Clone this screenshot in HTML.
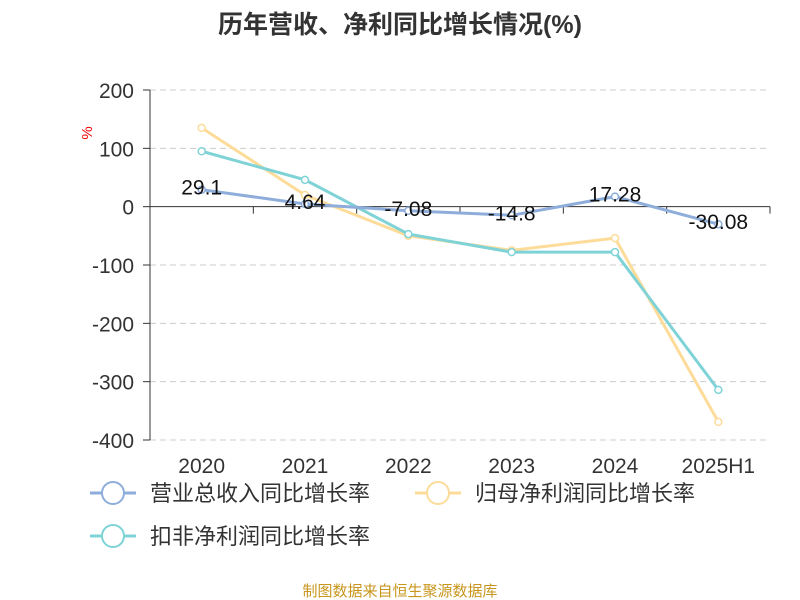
<!DOCTYPE html>
<html><head><meta charset="utf-8"><style>
body{margin:0;background:#fff;}
svg{display:block;font-family:"Liberation Sans","Noto Sans CJK SC",sans-serif;}
</style></head><body>
<svg id="c" width="800" height="600"></svg>
<script>
const categories=["2020","2021","2022","2023","2024","2025H1"];
const revenueGrowth=[29.1,4.64,-7.08,-14.8,17.28,-30.08];
const revenueLabels=["29.1","4.64","-7.08","-14.8","17.28","-30.08"];
const netProfitGrowth=[135,20,-50,-75,-54,-369];
const deductedProfitGrowth=[95,46,-47,-78,-78,-314];
const yTicks=[200,100,0,-100,-200,-300,-400];
const yTickLabels=["200","100","0","-100","-200","-300","-400"];

const svg=document.getElementById('c');
const NS='http://www.w3.org/2000/svg';
function mk(t,a,txt){const e=document.createElementNS(NS,t);for(const k in a)e.setAttribute(k,a[k]);if(txt!=null)e.textContent=txt;svg.appendChild(e);return e;}
const x0=150,x1=770,yTop=90,yBot=440;
const y=v=>yTop+(200-v)/600*(yBot-yTop);
const bw=(x1-x0)/categories.length;
const x=i=>x0+bw*(i+0.5);

let e=mk('text',{x:400,y:33,'text-anchor':'middle','font-size':25,'font-weight':'bold',fill:'#333'},'历年营收、净利同比增长情况(%)');

e=mk('text',{x:92,y:133,'font-size':15,fill:'#e00',transform:'rotate(-90 92 133)','text-anchor':'middle'},'%');


yTicks.forEach((t,i)=>{
  if(t!==0){const g=mk('line',{x1:x0,x2:x1,y1:y(t),y2:y(t),stroke:'#ccc','stroke-dasharray':'6,4'});
  }
  mk('line',{x1:x0-7,x2:x0,y1:y(t),y2:y(t),stroke:'#333'});
  const l=mk('text',{x:x0-16,y:y(t)+8,'text-anchor':'end','font-size':21,fill:'#333'},yTickLabels[i]);
  
});
e=mk('line',{x1:x0,x2:x0,y1:yTop,y2:yBot,stroke:'#333'});

e=mk('line',{x1:x0,x2:x1,y1:y(0),y2:y(0),stroke:'#333'});

for(let i=0;i<=categories.length;i++)mk('line',{x1:x0+bw*i,x2:x0+bw*i,y1:y(0),y2:y(0)+7,stroke:'#333'});
categories.forEach((c,i)=>{const l=mk('text',{x:x(i),y:473,'text-anchor':'middle','font-size':21,fill:'#333'},c);
});

function series(vals,color,name){
  const p=mk('polyline',{points:vals.map((v,i)=>x(i)+','+y(v)).join(' '),fill:'none',stroke:color,'stroke-width':3});
  
  vals.forEach((v,i)=>{const c=mk('circle',{cx:x(i),cy:y(v),r:3.5,fill:'#fff',stroke:color,'stroke-width':1.5});
  });
}
series(netProfitGrowth,'#fddc9a','net-profit');
series(deductedProfitGrowth,'#7fd3d6','deducted-profit');
series(revenueGrowth,'#8eaddb','revenue');
revenueGrowth.forEach((v,i)=>{const l=mk('text',{x:x(i),y:y(v)+5,'text-anchor':'middle','font-size':21,fill:'#111'},revenueLabels[i]);
});

function legend(lx,ly,color,text,name){
  mk('line',{x1:lx,x2:lx+46,y1:ly,y2:ly,stroke:color,'stroke-width':3});
  mk('circle',{cx:lx+23,cy:ly,r:11,fill:'#fff',stroke:color,'stroke-width':2});
  const t=mk('text',{x:lx+60,y:ly+8,'font-size':22,fill:'#333'},text);
  
}
legend(90,493,'#8eaddb','营业总收入同比增长率','legend-revenue');
legend(415,493,'#fddc9a','归母净利润同比增长率','legend-net-profit');
legend(90,536,'#7fd3d6','扣非净利润同比增长率','legend-deducted-profit');
e=mk('text',{x:400,y:596,'text-anchor':'middle','font-size':15,fill:'#c8961e'},'制图数据来自恒生聚源数据库');

</script>
</body></html>
